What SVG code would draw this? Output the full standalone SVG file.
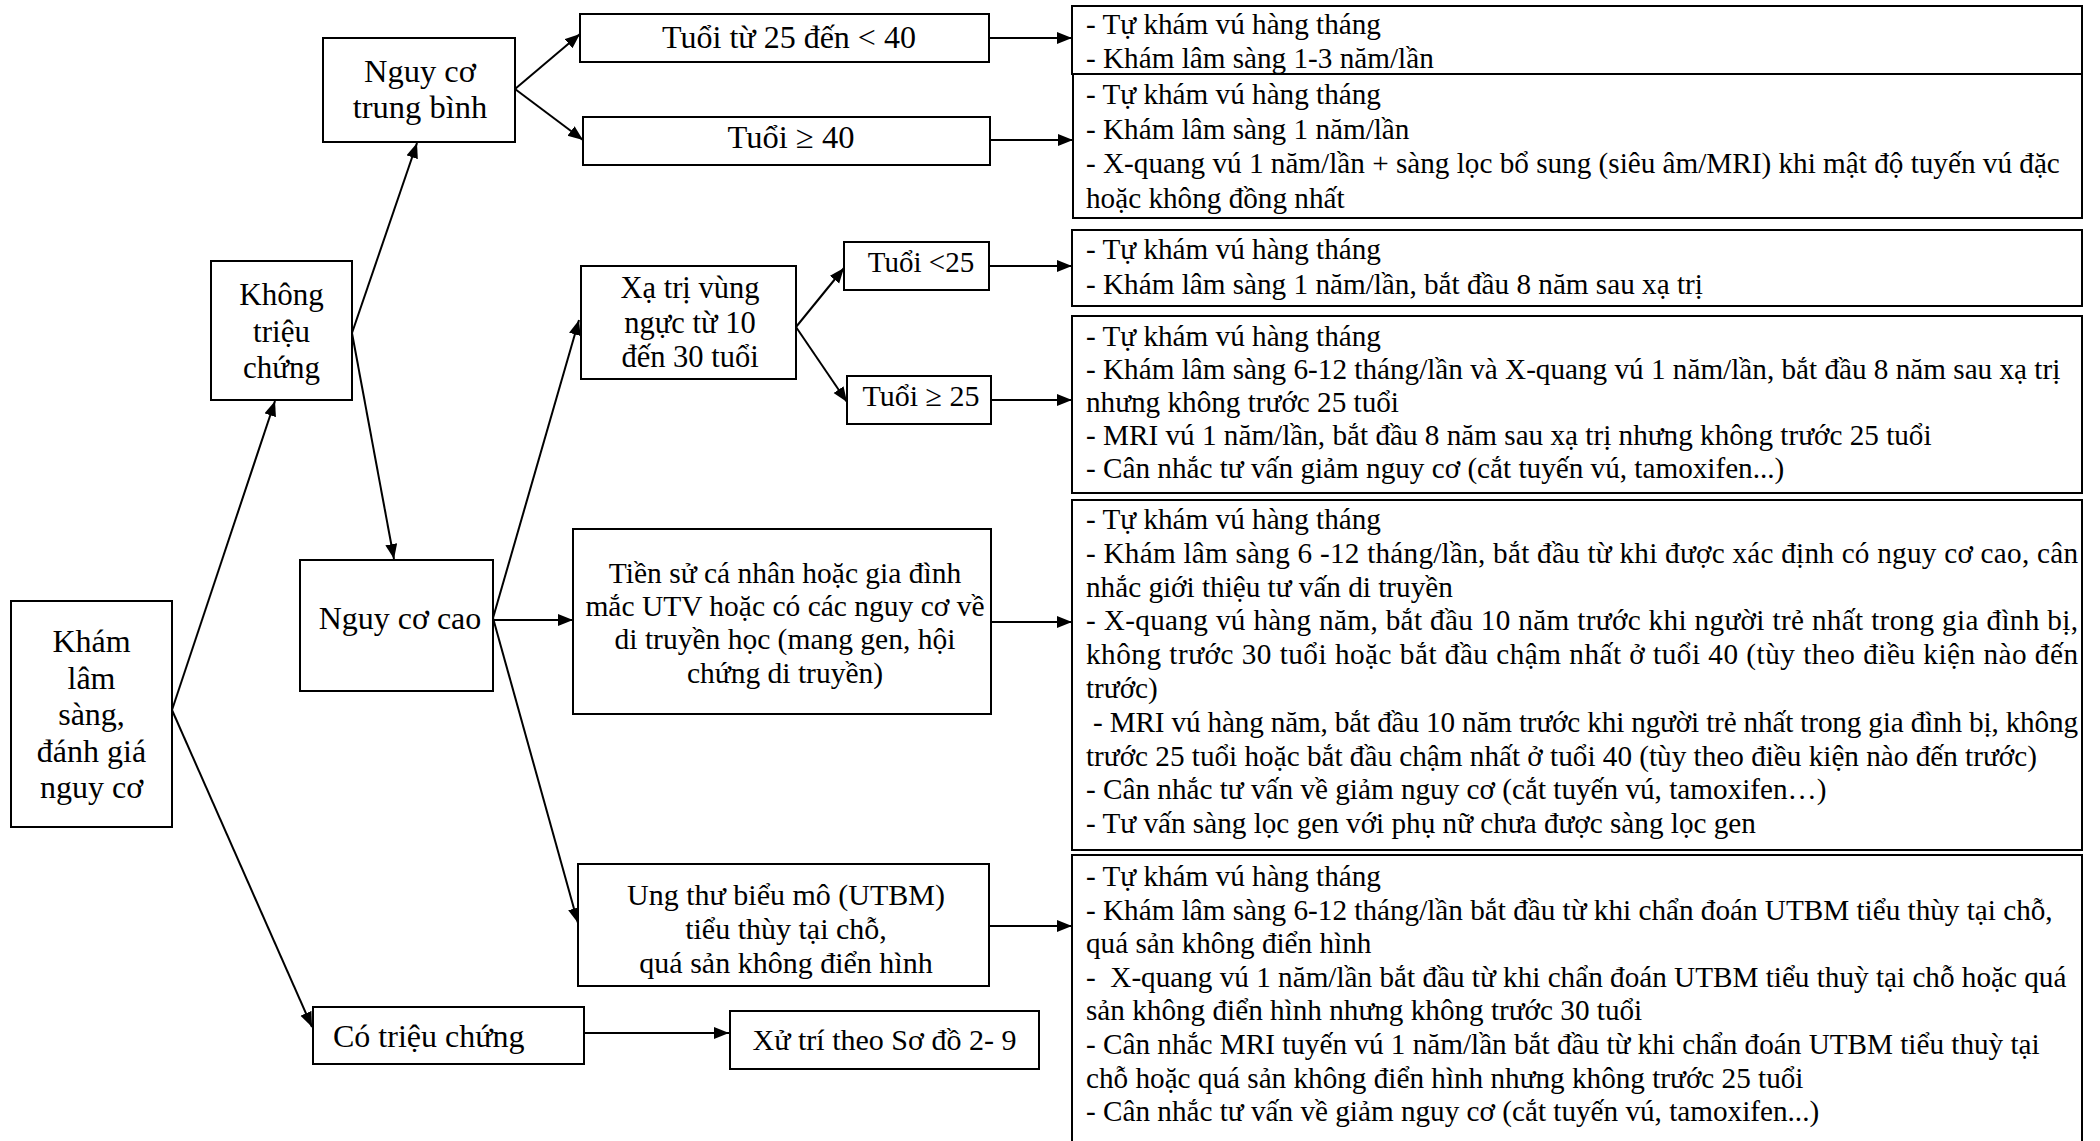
<svg xmlns="http://www.w3.org/2000/svg" width="2100" height="1141" viewBox="0 0 2100 1141">
<style>
.box{fill:#fff;stroke:#000;stroke-width:2}
.n{font-family:"Liberation Serif","Times New Roman",serif;font-size:30px;fill:#000;text-anchor:middle}
.big{font-size:32px}
.t{font-family:"Liberation Serif","Times New Roman",serif;font-size:29.2px;fill:#000}
.c{fill:none;stroke:#000;stroke-width:2;marker-end:url(#ah)}
</style>
<defs>
<marker id="ah" markerUnits="userSpaceOnUse" markerWidth="16" markerHeight="13" refX="15" refY="6" orient="auto">
<path d="M0,0 L15,6 L0,12 z" fill="#000"/>
</marker>
</defs>
<rect width="2100" height="1141" fill="#fff"/>

<g id="connectors">
<line class="c" x1="172" y1="710" x2="275" y2="401"/>
<line class="c" x1="172" y1="710" x2="312" y2="1027"/>
<line class="c" x1="352" y1="333" x2="417" y2="143"/>
<line class="c" x1="352" y1="333" x2="394" y2="559"/>
<line class="c" x1="515" y1="89" x2="580" y2="34"/>
<line class="c" x1="515" y1="89" x2="583" y2="140"/>
<line class="c" x1="493" y1="618" x2="579" y2="320"/>
<line class="c" x1="493" y1="620" x2="573" y2="620"/>
<line class="c" x1="493" y1="618" x2="578" y2="923"/>
<line class="c" x1="796" y1="327" x2="844" y2="268"/>
<line class="c" x1="796" y1="327" x2="847" y2="402"/>
<line class="c" x1="989" y1="38" x2="1072" y2="38"/>
<line class="c" x1="990" y1="140" x2="1073" y2="140"/>
<line class="c" x1="989" y1="266" x2="1072" y2="266"/>
<line class="c" x1="991" y1="400" x2="1072" y2="400"/>
<line class="c" x1="991" y1="622" x2="1072" y2="622"/>
<line class="c" x1="989" y1="926" x2="1072" y2="926"/>
<line class="c" x1="584" y1="1033" x2="729" y2="1033"/>
</g>

<g id="kham-lam-sang">
<rect class="box" x="11" y="601" width="161" height="226"/>
<text class="n big" x="91.5" y="652">Khám</text>
<text class="n big" x="91.5" y="688.5">lâm</text>
<text class="n big" x="91.5" y="725">sàng,</text>
<text class="n big" x="91.5" y="761.5">đánh giá</text>
<text class="n big" x="91.5" y="798">nguy cơ</text>
</g>

<g id="khong-trieu-chung">
<rect class="box" x="211" y="261" width="141" height="139"/>
<text class="n" x="281.5" y="305" style="font-size:31px">Không</text>
<text class="n" x="281.5" y="342" style="font-size:31px">triệu</text>
<text class="n" x="281.5" y="378" style="font-size:31px">chứng</text>
</g>

<g id="nguy-co-trung-binh">
<rect class="box" x="323" y="38" width="192" height="104"/>
<text class="n" x="420" y="82" style="font-size:32.5px">Nguy cơ</text>
<text class="n" x="420" y="118" style="font-size:32.5px">trung bình</text>
</g>

<g id="nguy-co-cao">
<rect class="box" x="300" y="560" width="193" height="131"/>
<text class="n big" x="400" y="629">Nguy cơ cao</text>
</g>

<g id="co-trieu-chung">
<rect class="box" x="313" y="1007" width="271" height="57"/>
<text class="n big" x="333" y="1047" style="text-anchor:start">Có triệu chứng</text>
</g>

<g id="xu-tri">
<rect class="box" x="730" y="1011" width="309" height="58"/>
<text class="n" x="884.5" y="1050">Xử trí theo Sơ đồ 2- 9</text>
</g>

<g id="tuoi-25-40">
<rect class="box" x="580" y="14" width="409" height="48"/>
<text class="n big" x="789" y="48">Tuổi từ 25 đến &lt; 40</text>
</g>

<g id="tuoi-40">
<rect class="box" x="583" y="117" width="407" height="48"/>
<text class="n" x="791" y="148" style="font-size:32.5px">Tuổi ≥ 40</text>
</g>

<g id="xa-tri">
<rect class="box" x="581" y="266" width="215" height="113"/>
<text class="n" x="690" y="298" style="font-size:30.5px">Xạ trị vùng</text>
<text class="n" x="690" y="333" style="font-size:30.5px">ngực từ 10</text>
<text class="n" x="690" y="367" style="font-size:30.5px">đến 30 tuổi</text>
</g>

<g id="tuoi-lt-25">
<rect class="box" x="844" y="242" width="145" height="48"/>
<text class="n" x="921" y="272" style="font-size:29px">Tuổi &lt;25</text>
</g>

<g id="tuoi-ge-25">
<rect class="box" x="847" y="376" width="144" height="48"/>
<text class="n" x="921" y="406">Tuổi ≥ 25</text>
</g>

<g id="tien-su">
<rect class="box" x="573" y="529" width="418" height="185"/>
<text class="n" x="785" y="583" style="font-size:29.5px">Tiền sử cá nhân hoặc gia đình</text>
<text class="n" x="785" y="616" style="font-size:29.5px">mắc UTV hoặc có các nguy cơ về</text>
<text class="n" x="785" y="649" style="font-size:29.5px">di truyền học (mang gen, hội</text>
<text class="n" x="785" y="683" style="font-size:29.5px">chứng di truyền)</text>
</g>

<g id="ung-thu">
<rect class="box" x="578" y="864" width="411" height="122"/>
<text class="n" x="786" y="905">Ung thư biểu mô (UTBM)</text>
<text class="n" x="786" y="939">tiểu thùy tại chỗ,</text>
<text class="n" x="786" y="973">quá sản không điển hình</text>
</g>

<g id="kq-tuoi-25-40">
<rect class="box" x="1072" y="6" width="1010" height="68"/>
<text class="t" x="1086" y="34">- Tự khám vú hàng tháng</text>
<text class="t" x="1086" y="68">- Khám lâm sàng 1-3 năm/lần</text>
</g>

<g id="kq-tuoi-40">
<rect class="box" x="1073" y="74" width="1009" height="144"/>
<text class="t" x="1086" y="104">- Tự khám vú hàng tháng</text>
<text class="t" x="1086" y="138.5">- Khám lâm sàng 1 năm/lần</text>
<text class="t" x="1086" y="173">- X-quang vú 1 năm/lần + sàng lọc bổ sung (siêu âm/MRI) khi mật độ tuyến vú đặc</text>
<text class="t" x="1086" y="207.5">hoặc không đồng nhất</text>
</g>

<g id="kq-tuoi-lt-25">
<rect class="box" x="1072" y="230" width="1010" height="76"/>
<text class="t" x="1086" y="259">- Tự khám vú hàng tháng</text>
<text class="t" x="1086" y="294">- Khám lâm sàng 1 năm/lần, bắt đầu 8 năm sau xạ trị</text>
</g>

<g id="kq-tuoi-ge-25">
<rect class="box" x="1072" y="316" width="1010" height="177"/>
<text class="t" x="1086" y="346">- Tự khám vú hàng tháng</text>
<text class="t" x="1086" y="379">- Khám lâm sàng 6-12 tháng/lần và X-quang vú 1 năm/lần, bắt đầu 8 năm sau xạ trị</text>
<text class="t" x="1086" y="412">nhưng không trước 25 tuổi</text>
<text class="t" x="1086" y="445">- MRI vú 1 năm/lần, bắt đầu 8 năm sau xạ trị nhưng không trước 25 tuổi</text>
<text class="t" x="1086" y="478">- Cân nhắc tư vấn giảm nguy cơ (cắt tuyến vú, tamoxifen...)</text>
</g>

<g id="kq-tien-su">
<rect class="box" x="1072" y="500" width="1010" height="350"/>
<text class="t" x="1086" y="529">- Tự khám vú hàng tháng</text>
<text class="t" x="1086" y="563" textLength="992" lengthAdjust="spacing">- Khám lâm sàng 6 -12 tháng/lần, bắt đầu từ khi được xác định có nguy cơ cao, cân</text>
<text class="t" x="1086" y="597">nhắc giới thiệu tư vấn di truyền</text>
<text class="t" x="1086" y="630" textLength="992" lengthAdjust="spacing">- X-quang vú hàng năm, bắt đầu 10 năm trước khi người trẻ nhất trong gia đình bị,</text>
<text class="t" x="1086" y="664" textLength="992" lengthAdjust="spacing">không trước 30 tuổi hoặc bắt đầu chậm nhất ở tuổi 40 (tùy theo điều kiện nào đến</text>
<text class="t" x="1086" y="698">trước)</text>
<text class="t" x="1093" y="732" textLength="985" lengthAdjust="spacing">- MRI vú hàng năm, bắt đầu 10 năm trước khi người trẻ nhất trong gia đình bị, không</text>
<text class="t" x="1086" y="766">trước 25 tuổi hoặc bắt đầu chậm nhất ở tuổi 40 (tùy theo điều kiện nào đến trước)</text>
<text class="t" x="1086" y="799">- Cân nhắc tư vấn về giảm nguy cơ (cắt tuyến vú, tamoxifen…)</text>
<text class="t" x="1086" y="833">- Tư vấn sàng lọc gen với phụ nữ chưa được sàng lọc gen</text>
</g>

<g id="kq-ung-thu">
<rect class="box" x="1072" y="855" width="1010" height="300"/>
<text class="t" x="1086" y="886">- Tự khám vú hàng tháng</text>
<text class="t" x="1086" y="920">- Khám lâm sàng 6-12 tháng/lần bắt đầu từ khi chẩn đoán UTBM tiểu thùy tại chỗ,</text>
<text class="t" x="1086" y="953">quá sản không điển hình</text>
<text class="t" x="1086" y="987" xml:space="preserve">-  X-quang vú 1 năm/lần bắt đầu từ khi chẩn đoán UTBM tiểu thuỳ tại chỗ hoặc quá</text>
<text class="t" x="1086" y="1020">sản không điển hình nhưng không trước 30 tuổi</text>
<text class="t" x="1086" y="1054">- Cân nhắc MRI tuyến vú 1 năm/lần bắt đầu từ khi chẩn đoán UTBM tiểu thuỳ tại</text>
<text class="t" x="1086" y="1088">chỗ hoặc quá sản không điển hình nhưng không trước 25 tuổi</text>
<text class="t" x="1086" y="1121">- Cân nhắc tư vấn về giảm nguy cơ (cắt tuyến vú, tamoxifen...)</text>
</g>
</svg>
